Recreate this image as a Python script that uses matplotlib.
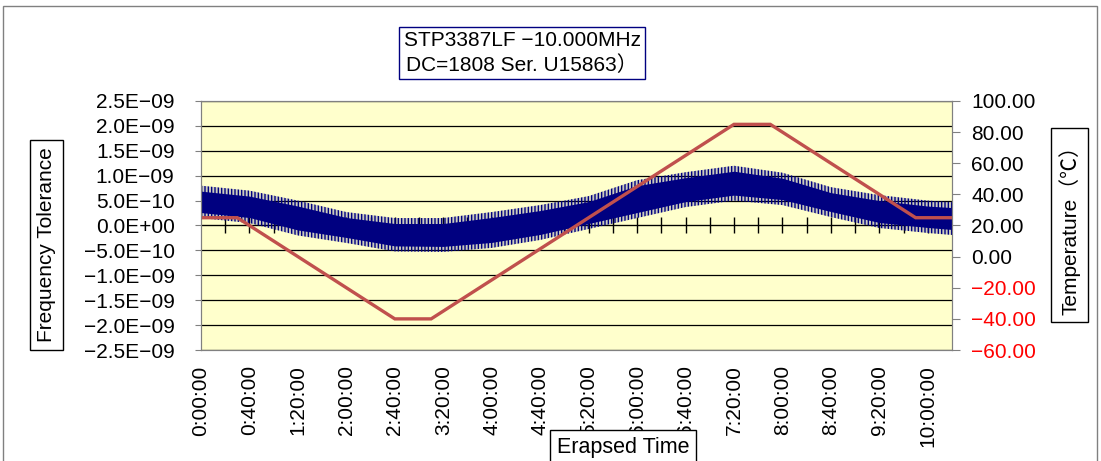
import matplotlib
matplotlib.use("Agg")
import matplotlib.pyplot as plt
from matplotlib.patches import Rectangle

plt.rcParams['font.family'] = ['Liberation Sans', 'Noto Sans CJK JP', 'DejaVu Sans']
plt.rcParams['hatch.linewidth'] = 1.0
plt.rcParams['hatch.color'] = '#000080'

# --- data ---
# temperature profile (minutes, deg C)
temp_t = [0, 30, 160, 190, 440, 470, 590, 620]
temp_c = [25, 25, -40, -40, 85, 85, 25, 25]

# frequency tolerance noise band (minutes, extremes of the trace)
band_t = [0, 40, 80, 120, 160, 200, 240, 280, 320, 360, 400, 440, 480, 520, 560, 600, 620]
band_hi = [0.80e-9, 0.70e-9, 0.50e-9, 0.27e-9, 0.15e-9, 0.15e-9, 0.27e-9, 0.41e-9, 0.59e-9,
           0.91e-9, 1.07e-9, 1.20e-9, 1.06e-9, 0.77e-9, 0.61e-9, 0.50e-9, 0.47e-9]
band_lo = [0.15e-9, 0.05e-9, -0.20e-9, -0.35e-9, -0.52e-9, -0.53e-9, -0.45e-9, -0.29e-9, -0.07e-9,
           0.15e-9, 0.37e-9, 0.50e-9, 0.41e-9, 0.17e-9, -0.05e-9, -0.15e-9, -0.19e-9]

freq_ticks = [-2.5e-9, -2.0e-9, -1.5e-9, -1.0e-9, -0.5e-9, 0.0, 0.5e-9, 1.0e-9, 1.5e-9, 2.0e-9, 2.5e-9]
freq_labels = ["−2.5E−09", "−2.0E−09", "−1.5E−09", "−1.0E−09", "−5.0E−10", "0.0E+00",
               "5.0E−10", "1.0E−09", "1.5E−09", "2.0E−09", "2.5E−09"]
temp_ticks = [-60, -40, -20, 0, 20, 40, 60, 80, 100]
time_ticks = [0, 40, 80, 120, 160, 200, 240, 280, 320, 360, 400, 440, 480, 520, 560, 600]
time_labels = ["0:00:00", "0:40:00", "1:20:00", "2:00:00", "2:40:00", "3:20:00", "4:00:00",
               "4:40:00", "5:20:00", "6:00:00", "6:40:00", "7:20:00", "8:00:00", "8:40:00",
               "9:20:00", "10:00:00"]

NAVY = '#000080'
RED_LINE = '#C0504D'
CORE_INSET = 0.11e-9
FS = 15
W, H = 1101, 461

fig = plt.figure(figsize=(W / 100, H / 100), dpi=100)
fig.patch.set_facecolor('white')
ax = fig.add_axes([201 / W, 1 - 350 / H, (952 - 201) / W, (350 - 101) / H])
ax.set_facecolor('#FFFFCC')
ax.set_axisbelow(True)

# noise band: hatched fringe for the spikes + solid core
ax.fill_between(band_t, band_lo, band_hi, facecolor=NAVY, alpha=0.2, lw=0)
ax.fill_between(band_t, band_lo, band_hi, facecolor='none', edgecolor=NAVY, hatch='|||||', lw=0)
core_hi = [h - CORE_INSET for h in band_hi]
core_lo = [l + CORE_INSET for l in band_lo]
ax.fill_between(band_t, core_lo, core_hi, color=NAVY, lw=0)

ax.set_xlim(0, 620)
ax.set_ylim(-2.5e-9, 2.5e-9)
ax.set_yticks(freq_ticks, labels=freq_labels)
ax.set_xticks(time_ticks, labels=time_labels, rotation=90)
ax.tick_params(axis='x', length=0, pad=11, labelsize=FS)
ax.tick_params(axis='y', length=4, color='#808080', pad=15, labelsize=FS)
ax.yaxis.grid(True, color='black', lw=0.9)
for s in ax.spines.values():
    s.set_color('#808080')

# cross ticks along the zero line
sec = ax.secondary_xaxis(0.5)
sec.set_xticks(list(range(20, 620, 20)))
sec.set_xticklabels([])
sec.tick_params(direction='inout', length=12, width=1, color='black')
sec.spines['bottom'].set_color('black')

ax2 = ax.twinx()
ax2.plot(temp_t, temp_c, color=RED_LINE, lw=2.4, solid_joinstyle='miter')
ax2.set_ylim(-60, 100)
ax2.set_yticks(temp_ticks, labels=[f"{v:.2f}".replace('-', '−') for v in temp_ticks])
ax2.tick_params(axis='y', length=6, color='#808080', pad=8, labelsize=FS)
for lab, v in zip(ax2.get_yticklabels(), temp_ticks):
    lab.set_color('#FF0000' if v < 0 else 'black')
for s in ax2.spines.values():
    s.set_color('#808080')

box = dict(boxstyle='square,pad=0.35', fc='white', ec='black', lw=1)
fig.text(46.5 / W, 1 - 245 / H, "Frequency Tolerance", rotation=90, ha='center', va='center',
         fontsize=FS, bbox=box)
fig.text(1069.5 / W, 1 - 225 / H, "Temperature（℃）", rotation=90, ha='center', va='center',
         fontsize=FS, bbox=box)
fig.text(623 / W, 1 - 447 / H, "Erapsed Time", ha='center', va='center', fontsize=FS + 0.5,
         bbox=dict(boxstyle='square,pad=0.3', fc='white', ec='black', lw=1))
fig.text(522 / W, 1 - 53 / H, "STP3387LF −10.000MHz\nDC=1808 Ser. U15863）", ha='center',
         va='center', fontsize=FS, linespacing=1.3,
         bbox=dict(boxstyle='square,pad=0.2', fc='white', ec=NAVY, lw=1))

# outer chart border
fig.patches.append(Rectangle((3 / W, -0.05), 1094 / W, 1.05 - 6 / H, transform=fig.transFigure,
                             fill=False, ec='#808080', lw=1))

fig.savefig('out.png', dpi=100)
